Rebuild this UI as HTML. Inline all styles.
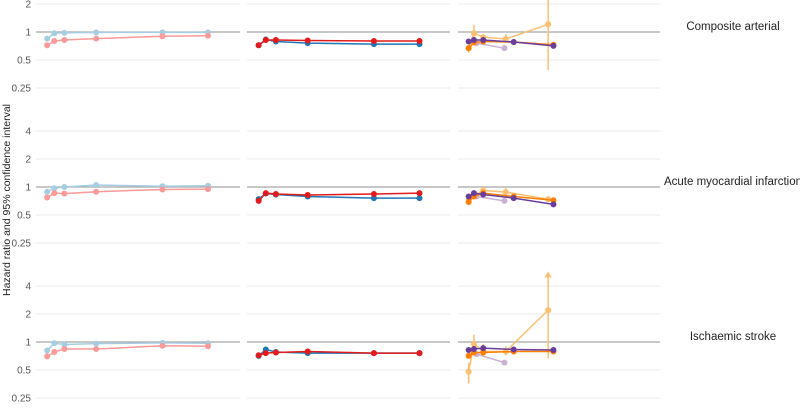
<!DOCTYPE html>
<html><head><meta charset="utf-8"><style>
body{margin:0;background:#fff}
svg{display:block;font-family:"Liberation Sans",sans-serif}
</style></head><body>
<svg id="c" width="800" height="419"></svg>
<script>
const yTicks=[0.25,0.5,1,2,4];
const yTickLabels=["0.25","0.5","1","2","4"];
const xTickLabels=["0","5","10","15","20","25","30","35"];
const rowLabels=["Composite arterial","Acute myocardial infarction","Ischaemic stroke"];
const xTimeA=[0.1,0.37,0.75,1.95,4.45,6.17];
const xTimeC=[0.1,0.3,0.65,1.8,3.3];
const xTimeCL=[0.1,0.3,0.65,1.5,3.1];
const xTimeCP=[0.4,1.45];
// row 1
const r1LightBlue=[0.85,0.97,0.98,0.99,0.99,0.99];
const r1LightRed=[0.72,0.8,0.82,0.85,0.9,0.91];
const r1Blue=[0.72,0.83,0.79,0.76,0.74,0.74];
const r1Red=[0.72,0.82,0.82,0.81,0.8,0.8];
const r1Purple=[0.79,0.82,0.82,0.78,0.71];
const r1Orange=[0.67,0.77,0.79,0.78,0.73];
const r1LightOrange=[0.67,0.97,0.88,0.84,1.21];
const r1LightOrangeLo=[0.6,0.75,0.84,0.8,0.39];
const r1LightOrangeHi=[0.72,1.2,0.95,0.95,3];
const r1LightPurple=[0.76,0.67];
// row 2
const r2LightBlue=[0.89,0.97,1.0,1.05,1.02,1.03];
const r2LightRed=[0.77,0.86,0.85,0.89,0.94,0.95];
const r2Blue=[0.74,0.85,0.83,0.79,0.76,0.76];
const r2Red=[0.71,0.86,0.84,0.82,0.84,0.86];
const r2Purple=[0.79,0.86,0.83,0.76,0.65];
const r2Orange=[0.69,0.79,0.86,0.79,0.72];
const r2LightOrange=[0.72,0.8,0.92,0.88,0.74];
const r2LightOrangeLo=[0.68,0.75,0.85,0.8,0.7];
const r2LightOrangeHi=[0.76,0.85,1.0,0.98,0.78];
const r2LightPurple=[0.79,0.71];
// row 3
const r3LightBlue=[0.81,0.97,0.94,0.96,0.98,0.97];
const r3LightRed=[0.7,0.78,0.84,0.84,0.91,0.9];
const r3Blue=[0.71,0.83,0.78,0.76,0.76,0.76];
const r3Red=[0.72,0.76,0.77,0.79,0.76,0.76];
const r3Purple=[0.82,0.84,0.86,0.83,0.82];
const r3Orange=[0.71,0.77,0.77,0.79,0.79];
const r3LightOrange=[0.48,0.95,0.79,0.79,2.2];
const r3LightOrangeLo=[0.36,0.75,0.7,0.72,0.67];
const r3LightOrangeHi=[0.6,1.2,0.95,0.9,5.6];
const r3LightPurple=[0.74,0.6];

const NS="http://www.w3.org/2000/svg";
const svg=document.getElementById('c');
function mk(t,a,p){const e=document.createElementNS(NS,t);for(const k in a)e.setAttribute(k,a[k]);(p||svg).appendChild(e);return e;}
const panelX0=[44.5,256,466];
const panelL=[36,247,458];
const panelR=[240,450,660];
const rowBase=[32,187,342];
function xs(col,t){return panelX0[col]+26.5*t;}
function ys(row,v){return rowBase[row]-28*Math.log2(v);}

for(let r=0;r<3;r++){
  for(let c=0;c<3;c++){
    yTicks.forEach((v,i)=>{
      const y=ys(r,v);
      const g=mk('line',{x1:panelL[c],x2:panelR[c],y1:y,y2:y,stroke:v===1?'#a8a8a8':'#ebebeb','stroke-width':v===1?1.3:1});
      
      
    });
  }
  yTicks.forEach((v,i)=>{
    const y=ys(r,v);
    if(y<-5)return;
    const t=mk('text',{x:31,y:y+3.5,'text-anchor':'end','font-size':10,fill:'#555'});
    t.textContent=yTickLabels[i];
    
    
  });
  const rl=mk('text',{x:733,y:rowBase[r]-2,'text-anchor':'middle','font-size':11.5,fill:'#222'});
  rl.textContent=rowLabels[r];
  
  
}
for(let c=0;c<3;c++){
  xTickLabels.forEach((l,i)=>{
    const t=mk('text',{x:xs(c,i),y:426,'text-anchor':'middle','font-size':10,fill:'#999'});
    t.textContent=l;
    
    
  });
}
const yt=mk('text',{x:10,y:200,'text-anchor':'middle','font-size':10.5,fill:'#222',transform:'rotate(-90 10 200)'});
yt.textContent='Hazard ratio and 95% confidence interval';



function series(row,col,xv,vals,color,name,lo,hi){
  const g=mk('g',{});
  
  
  if(lo){vals.forEach((v,i)=>{
    const x=xs(col,xv[i]);let yt=ys(row,hi[i]);const yb=ys(row,lo[i]);
    const clip=yt<0?0:yt;
    const l=mk('line',{x1:x,x2:x,y1:clip,y2:yb,stroke:color,'stroke-width':1.5},g);
    
    
    if(hi[i]>4&&clip>0){const a=mk('path',{d:`M${x-3},${clip+5}L${x},${clip}L${x+3},${clip+5}`,fill:color,stroke:color},g);
      }
  });}
  const pts=vals.map((v,i)=>xs(col,xv[i])+','+ys(row,v)).join(' ');
  const pl=mk('polyline',{points:pts,fill:'none',stroke:color,'stroke-width':1.5},g);
  
  
  vals.forEach((v,i)=>{
    const p=mk('circle',{cx:xs(col,xv[i]),cy:ys(row,v),r:3,fill:color},g);
    
    
  });
}
const LB='#a6cee3',LR='#fb9a99',B='#1f78b4',R='#e31a1c',LO='#fdbf6f',O='#ff7f00',LP='#cab2d6',P='#6a3d9a';
const rows=[
 [r1LightBlue,r1LightRed,r1Blue,r1Red,r1Purple,r1Orange,r1LightOrange,r1LightOrangeLo,r1LightOrangeHi,r1LightPurple],
 [r2LightBlue,r2LightRed,r2Blue,r2Red,r2Purple,r2Orange,r2LightOrange,r2LightOrangeLo,r2LightOrangeHi,r2LightPurple],
 [r3LightBlue,r3LightRed,r3Blue,r3Red,r3Purple,r3Orange,r3LightOrange,r3LightOrangeLo,r3LightOrangeHi,r3LightPurple]];
rows.forEach((d,r)=>{
  series(r,0,xTimeA,d[0],LB,'series-light-blue');
  series(r,0,xTimeA,d[1],LR,'series-light-red');
  series(r,1,xTimeA,d[2],B,'series-blue');
  series(r,1,xTimeA,d[3],R,'series-red');
  series(r,2,xTimeCP,d[9],LP,'series-light-purple');
  series(r,2,xTimeCL,d[6],LO,'series-light-orange',d[7],d[8]);
  series(r,2,xTimeC,d[5],O,'series-orange');
  series(r,2,xTimeC,d[4],P,'series-purple');
});
</script>
</body></html>
